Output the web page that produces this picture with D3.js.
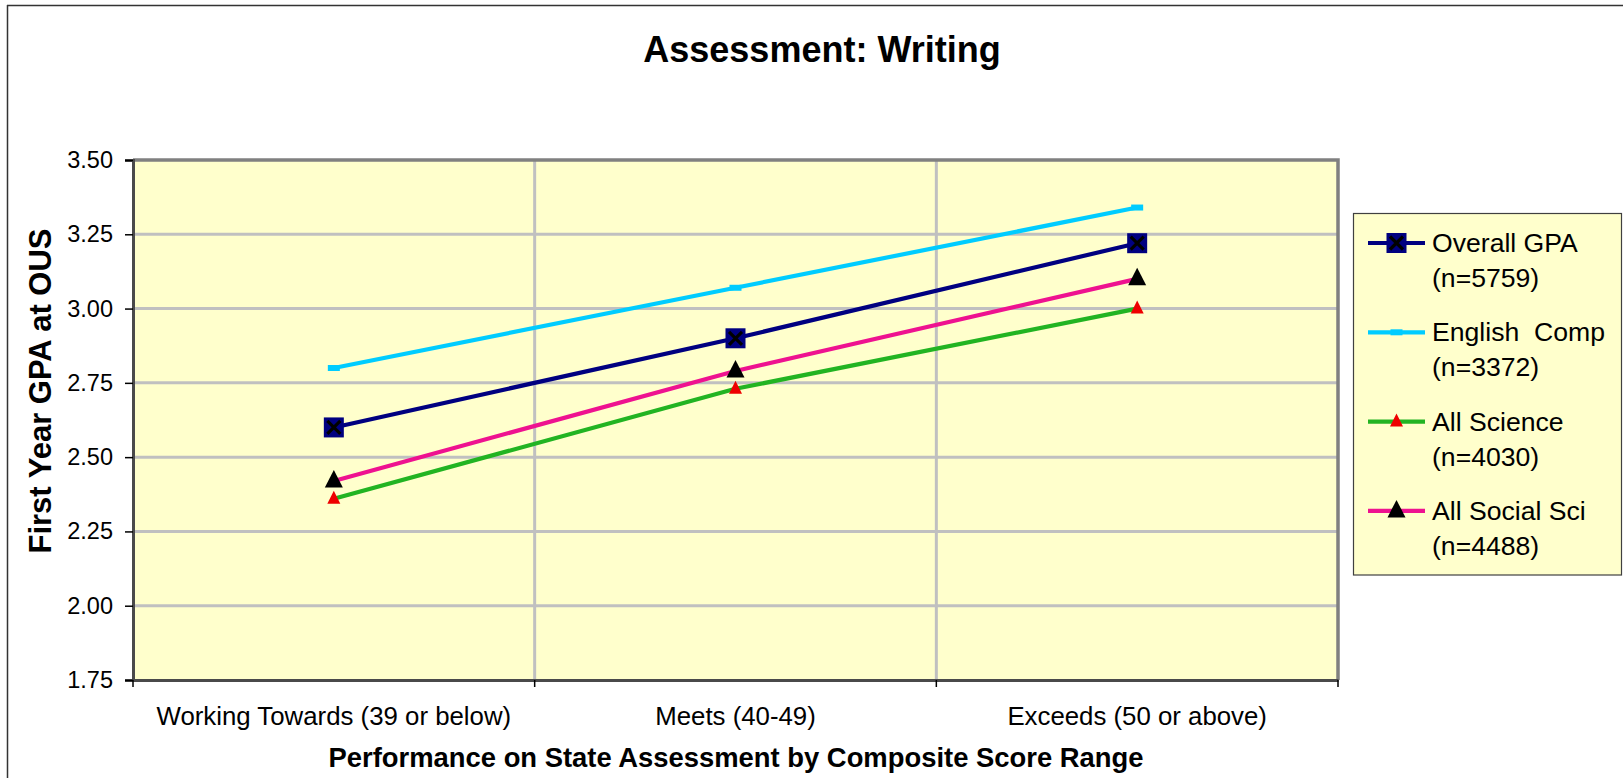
<!DOCTYPE html>
<html>
<head>
<meta charset="utf-8">
<script src="https://cdn.jsdelivr.net/npm/d3@7"></script>
<style>
  html, body { margin: 0; padding: 0; background: #fff; }
  svg { display: block; font-family: "Liberation Sans", Arial, sans-serif; }
  text { white-space: pre; }
</style>
</head>
<body>
<svg id="chart" width="1623" height="778"></svg>
<script>
const categories = ["Working Towards (39 or below)", "Meets (40-49)", "Exceeds (50 or above)"];
const overallGPA = [2.60, 2.90, 3.22];
const englishComp = [2.80, 3.07, 3.34];
const allScience = [2.36, 2.73, 3.00];
const allSocialSci = [2.42, 2.79, 3.10];
const yTicks = [1.75, 2.00, 2.25, 2.50, 2.75, 3.00, 3.25, 3.50];
const seriesNames = [["Overall GPA", "(n=5759)"], ["English  Comp", "(n=3372)"], ["All Science", "(n=4030)"], ["All Social Sci", "(n=4488)"]];

const series = [
  { name: seriesNames[0], values: overallGPA, color: "#000080", marker: "squareX" },
  { name: seriesNames[1], values: englishComp, color: "#00CCFF", marker: "dash" },
  { name: seriesNames[2], values: allScience, color: "#22B422", marker: "redTri" },
  { name: seriesNames[3], values: allSocialSci, color: "#EE1290", marker: "blackTri" }
];

const svg = d3.select("#chart");
const L = 133, R = 1338, T = 160, B = 680;

// outer chart border
svg.append("line").attr("x1", 7).attr("x2", 1623).attr("y1", 5.5).attr("y2", 5.5).attr("stroke", "#333").attr("stroke-width", 1.5);
svg.append("line").attr("x1", 7.5).attr("x2", 7.5).attr("y1", 5).attr("y2", 778).attr("stroke", "#333").attr("stroke-width", 1.5);

const x = d3.scaleBand().domain(categories).range([L, R]).padding(0);
const y = d3.scaleLinear().domain([1.75, 3.5]).range([B, T]);

// plot background
svg.append("rect").attr("x", L).attr("y", T).attr("width", R - L).attr("height", B - T).attr("fill", "#FFFFCC");

// horizontal gridlines
svg.append("g").selectAll("line").data(yTicks.slice(1, -1)).join("line")
  .attr("x1", L).attr("x2", R).attr("y1", d => y(d)).attr("y2", d => y(d))
  .attr("stroke", "#C0C0C0").attr("stroke-width", 3);
// vertical gridlines at category boundaries
svg.append("g").selectAll("line").data(categories.slice(1)).join("line")
  .attr("x1", d => x(d)).attr("x2", d => x(d)).attr("y1", T).attr("y2", B)
  .attr("stroke", "#C0C0C0").attr("stroke-width", 3);

// plot border top/right
svg.append("path").attr("d", `M${L},${T}H${R}V${B}`).attr("fill", "none").attr("stroke", "#808080").attr("stroke-width", 3.5);

// y axis
const yAxis = d3.axisLeft(y).tickValues(yTicks).tickFormat(d3.format(".2f")).tickSize(8).tickPadding(12);
const gy = svg.append("g").attr("transform", `translate(${L},0)`).call(yAxis);
gy.select(".domain").attr("stroke", "#4a4a4a").attr("stroke-width", 3);
gy.selectAll(".tick line").attr("stroke", "#000").attr("stroke-width", 1.5);
gy.selectAll(".tick text").attr("font-size", 23.5).attr("fill", "#000").attr("font-family", "Liberation Sans, Arial, sans-serif");

// x axis
const xAxis = d3.axisBottom(x).tickSize(0).tickPadding(27);
const gx = svg.append("g").attr("transform", `translate(0,${B})`).call(xAxis);
gx.select(".domain").attr("stroke", "#4a4a4a").attr("stroke-width", 3);
gx.selectAll(".tick text").attr("font-size", 25.8).attr("fill", "#000").attr("font-family", "Liberation Sans, Arial, sans-serif");
// boundary ticks
const bounds = categories.map(c => x(c)).concat([x(categories[categories.length - 1]) + x.bandwidth()]);
svg.append("g").selectAll("line").data(bounds).join("line")
  .attr("x1", d => d).attr("x2", d => d).attr("y1", B).attr("y2", B + 7)
  .attr("stroke", "#000").attr("stroke-width", 1.5);

const cx = c => x(c) + x.bandwidth() / 2;
const line = d3.line().x((d, i) => cx(categories[i])).y(d => y(d));

function drawMarker(g, type, px, py) {
  if (type === "squareX") {
    g.append("rect").attr("x", px - 10).attr("y", py - 10).attr("width", 20).attr("height", 20).attr("fill", "#000080");
    g.append("path").attr("d", `M${px - 6.5},${py - 6.5}L${px + 6.5},${py + 6.5}M${px + 6.5},${py - 6.5}L${px - 6.5},${py + 6.5}`)
      .attr("stroke", "#000").attr("stroke-width", 3.2);
  } else if (type === "dash") {
    g.append("rect").attr("x", px - 6).attr("y", py - 3).attr("width", 12).attr("height", 6).attr("fill", "#00CCFF");
  } else if (type === "redTri") {
    g.append("path").attr("d", `M${px},${py - 8}L${px + 6.5},${py + 5}L${px - 6.5},${py + 5}Z`).attr("fill", "#EE0000");
  } else if (type === "blackTri") {
    g.append("path").attr("d", `M${px},${py - 11}L${px + 9},${py + 6.5}L${px - 9},${py + 6.5}Z`).attr("fill", "#000");
  }
}

series.forEach(s => {
  svg.append("path").datum(s.values).attr("d", line).attr("fill", "none")
    .attr("stroke", s.color).attr("stroke-width", 4.2).attr("stroke-linejoin", "round");
});
series.forEach(s => {
  const g = svg.append("g");
  s.values.forEach((v, i) => drawMarker(g, s.marker, cx(categories[i]), y(v)));
});

// title
svg.append("text").attr("x", 822).attr("y", 62).attr("text-anchor", "middle")
  .attr("font-size", 36).attr("font-weight", "bold").text("Assessment: Writing");
// axis titles
svg.append("text").attr("x", 736).attr("y", 767).attr("text-anchor", "middle")
  .attr("font-size", 27.4).attr("font-weight", "bold").text("Performance on State Assessment by Composite Score Range");
svg.append("text").attr("transform", "translate(51,391) rotate(-90)").attr("text-anchor", "middle")
  .attr("font-size", 31).attr("font-weight", "bold").text("First Year GPA at OUS");

// legend
const lg = svg.append("g");
lg.append("rect").attr("x", 1353.5).attr("y", 213.5).attr("width", 268).attr("height", 361.5)
  .attr("fill", "#FFFFCC").attr("stroke", "#404040").attr("stroke-width", 1.2);
series.forEach((s, i) => {
  const ry = 243 + i * 89.3;
  lg.append("line").attr("x1", 1368).attr("x2", 1425).attr("y1", ry).attr("y2", ry)
    .attr("stroke", s.color).attr("stroke-width", 4.2);
  drawMarker(lg, s.marker, 1396.5, ry);
  lg.append("text").attr("x", 1432).attr("y", ry + 9).attr("font-size", 26.6).text(s.name[0]);
  lg.append("text").attr("x", 1432).attr("y", ry + 44).attr("font-size", 26.6).text(s.name[1]);
});
</script>
</body>
</html>
